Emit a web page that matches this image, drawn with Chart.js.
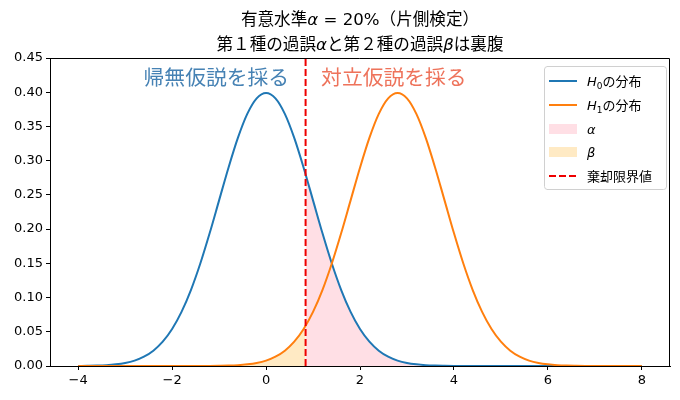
<!DOCTYPE html>
<html><head><meta charset="utf-8">
<script src="https://cdn.jsdelivr.net/npm/chart.js@4"></script>
<style>html,body{margin:0;padding:0;background:#fff}</style></head>
<body><canvas id="c" width="680" height="400"></canvas>
<script>
const xs = [-4.0,-3.8,-3.6,-3.4,-3.2,-3.0,-2.8,-2.6,-2.4,-2.2,-2.0,-1.8,-1.6,-1.4,-1.2,-1.0,-0.8,-0.6,-0.4,-0.2,
  0.0,0.2,0.4,0.6,0.8,1.0,1.2,1.4,1.6,1.8,2.0,2.2,2.4,2.6,2.8,3.0,3.2,3.4,3.6,3.8,
  4.0,4.2,4.4,4.6,4.8,5.0,5.2,5.4,5.6,5.8,6.0,6.2,6.4,6.6,6.8,7.0,7.2,7.4,7.6,7.8,8.0];
const h0 = [0.0001,0.0003,0.0006,0.0012,0.0024,0.0044,0.0079,0.0136,0.0224,0.0355,0.0540,0.0790,0.1109,0.1497,0.1942,0.2420,0.2897,0.3332,0.3683,0.3910,
  0.3989,0.3910,0.3683,0.3332,0.2897,0.2420,0.1942,0.1497,0.1109,0.0790,0.0540,0.0355,0.0224,0.0136,0.0079,0.0044,0.0024,0.0012,0.0006,0.0003,
  0.0001,0,0,0,0,0,0,0,0,0,0,0,0,0,0,0,0,0,0,0,0];
const h1 = [0,0,0,0,0,0,0,0,0,0,0,0,0,0,0.0001,0.0003,0.0006,0.0012,0.0024,0.0044,
  0.0079,0.0136,0.0224,0.0355,0.0540,0.0790,0.1109,0.1497,0.1942,0.2420,0.2897,0.3332,0.3683,0.3910,0.3989,0.3910,0.3683,0.3332,0.2897,0.2420,
  0.1942,0.1497,0.1109,0.0790,0.0540,0.0355,0.0224,0.0136,0.0079,0.0044,0.0024,0.0012,0.0006,0.0003,0.0001,0,0,0,0,0,0];
const critX = 0.8416, critH0 = 0.280, critH1 = 0.059;
const critLineY = [0, 0.45];
const xTicks = [-4,-2,0,2,4,6,8];
const xTickLabels = ['−4','−2','0','2','4','6','8'];
const yTicks = [0,0.05,0.10,0.15,0.20,0.25,0.30,0.35,0.40,0.45];
const yTickLabels = ['0.00','0.05','0.10','0.15','0.20','0.25','0.30','0.35','0.40','0.45'];
const noteLeft = '帰無仮説を採る', noteRight = '対立仮説を採る';

const FF = "'DejaVu Sans','Noto Sans CJK JP',sans-serif";
const C_H0 = '#1f77b4', C_H1 = '#ff7f0e', C_A = 'rgba(255,192,203,0.5)', C_B = 'rgba(255,165,0,0.23)', C_CR = '#ee0000';

function pts(ys){ return xs.map((x,i)=>({x:x, y:ys[i]})); }
const alphaPts = [{x:critX, y:critH0}].concat(pts(h0).filter(p=>p.x>critX));
const betaPts = pts(h1).filter(p=>p.x<critX).concat([{x:critX, y:critH1}]);
const critPts = critLineY.map(y=>({x:critX, y:y}));

function drawRich(ctx, segs, x, y, align){
  let w = 0;
  segs.forEach(s=>{ ctx.font = (s.it?'italic ':'') + s.size + 'px ' + FF; s.w = ctx.measureText(s.t).width; w += s.w; });
  let cx = align==='center' ? x - w/2 : (align==='right' ? x - w : x);
  ctx.textAlign = 'left'; ctx.textBaseline = 'alphabetic';
  segs.forEach(s=>{ ctx.font = (s.it?'italic ':'') + s.size + 'px ' + FF; ctx.fillText(s.t, cx, y + (s.dy||0)); cx += s.w; });
}

const deco = {
  id:'deco',
  afterDraw(chart){
    const ctx = chart.ctx, a = chart.chartArea, sx = chart.scales.x, sy = chart.scales.y;
    ctx.save();
    ctx.strokeStyle = '#000'; ctx.lineWidth = 1;
    ctx.beginPath(); ctx.moveTo(a.left, a.top+0.5); ctx.lineTo(a.right-0.5, a.top+0.5); ctx.lineTo(a.right-0.5, a.bottom); ctx.stroke();
    ctx.fillStyle = '#000';
    const ts = 16.6;
    drawRich(ctx, [{t:'有意水準',size:ts},{t:'α',it:true,size:ts},{t:' = 20%（片側検定）',size:ts}], (a.left+a.right)/2, 25, 'center');
    drawRich(ctx, [{t:'第１種の過誤',size:ts},{t:'α',it:true,size:ts},{t:'と第２種の過誤',size:ts},{t:'β',it:true,size:ts},{t:'は裏腹',size:ts}], (a.left+a.right)/2, 50, 'center');
    ctx.font = '20.8px ' + FF; ctx.textBaseline = 'middle';
    ctx.fillStyle = '#4682b4'; ctx.textAlign = 'right';
    ctx.fillText(noteLeft, sx.getPixelForValue(critX - 0.35), sy.getPixelForValue(0.418));
    ctx.fillStyle = '#ee735b'; ctx.textAlign = 'left';
    ctx.fillText(noteRight, sx.getPixelForValue(critX + 0.33), sy.getPixelForValue(0.418));
    const bx = 544, by = 66, bw = 123, bh = 124, r = 3;
    ctx.fillStyle = 'rgba(255,255,255,0.8)'; ctx.strokeStyle = '#d0d0d0'; ctx.lineWidth = 1;
    ctx.beginPath();
    ctx.moveTo(bx+r, by+0.5); ctx.lineTo(bx+bw-r, by+0.5); ctx.arcTo(bx+bw-0.5, by+0.5, bx+bw-0.5, by+r, r);
    ctx.lineTo(bx+bw-0.5, by+bh-r); ctx.arcTo(bx+bw-0.5, by+bh-0.5, bx+bw-r, by+bh-0.5, r);
    ctx.lineTo(bx+r, by+bh-0.5); ctx.arcTo(bx+0.5, by+bh-0.5, bx+0.5, by+bh-r, r);
    ctx.lineTo(bx+0.5, by+r); ctx.arcTo(bx+0.5, by+0.5, bx+r, by+0.5, r); ctx.closePath();
    ctx.fill(); ctx.stroke();
    const rows = [81,105,129,152,176], hx0 = 549, hx1 = 577, tx = 587;
    ctx.lineWidth = 2;
    ctx.strokeStyle = C_H0; ctx.beginPath(); ctx.moveTo(hx0, rows[0]); ctx.lineTo(hx1, rows[0]); ctx.stroke();
    ctx.strokeStyle = C_H1; ctx.beginPath(); ctx.moveTo(hx0, rows[1]); ctx.lineTo(hx1, rows[1]); ctx.stroke();
    ctx.fillStyle = C_A; ctx.fillRect(hx0, rows[2]-5, hx1-hx0, 10);
    ctx.fillStyle = C_B; ctx.fillRect(hx0, rows[3]-5, hx1-hx0, 10);
    ctx.strokeStyle = C_CR; ctx.setLineDash([7,3]); ctx.beginPath(); ctx.moveTo(hx0, rows[4]); ctx.lineTo(hx1, rows[4]); ctx.stroke(); ctx.setLineDash([]);
    ctx.fillStyle = '#000';
    drawRich(ctx, [{t:'H',it:true,size:13},{t:'0',size:9,dy:3},{t:'の分布',size:13}], tx, rows[0]+5, 'left');
    drawRich(ctx, [{t:'H',it:true,size:13},{t:'1',size:9,dy:3},{t:'の分布',size:13}], tx, rows[1]+5, 'left');
    drawRich(ctx, [{t:'α',it:true,size:13}], tx, rows[2]+5, 'left');
    drawRich(ctx, [{t:'β',it:true,size:13}], tx, rows[3]+5, 'left');
    drawRich(ctx, [{t:'棄却限界値',size:13}], tx, rows[4]+5, 'left');
    ctx.restore();
  }
};

new Chart(document.getElementById('c'), {
  type:'line',
  data:{ datasets:[
    {data:critPts, borderColor:C_CR, borderWidth:2, borderDash:[7,3], pointRadius:0, fill:false},
    {data:pts(h1), borderColor:C_H1, borderWidth:2, pointRadius:0, cubicInterpolationMode:'monotone', fill:false},
    {data:pts(h0), borderColor:C_H0, borderWidth:2, pointRadius:0, cubicInterpolationMode:'monotone', fill:false},
    {data:alphaPts, borderWidth:0, borderColor:'rgba(0,0,0,0)', backgroundColor:C_A, pointRadius:0, cubicInterpolationMode:'monotone', fill:'origin'},
    {data:betaPts, borderWidth:0, borderColor:'rgba(0,0,0,0)', backgroundColor:C_B, pointRadius:0, cubicInterpolationMode:'monotone', fill:'origin'}
  ]},
  options:{
    responsive:false, animation:false, devicePixelRatio:1,
    layout:{padding:{top:58,right:10,left:0,bottom:0}},
    plugins:{legend:{display:false}, title:{display:false}, tooltip:{enabled:false}},
    scales:{
      x:{type:'linear', min:-4.6, max:8.6,
        afterBuildTicks:s=>{ s.ticks = xTicks.map(v=>({value:v})); },
        afterFit:s=>{ s.height = 34; },
        ticks:{autoSkip:false, maxRotation:0, color:'#000', font:{family:FF,size:13}, padding:3,
          callback:v=>xTickLabels[xTicks.indexOf(v)]},
        grid:{display:true, drawOnChartArea:false, drawTicks:true, tickLength:4, color:'#000'},
        border:{display:true, color:'#000', width:1}},
      y:{type:'linear', min:0, max:0.45,
        afterBuildTicks:s=>{ s.ticks = yTicks.map(v=>({value:v})); },
        afterFit:s=>{ s.width = 50; },
        ticks:{autoSkip:false, color:'#000', font:{family:FF,size:13}, padding:3,
          callback:v=>yTickLabels[yTicks.findIndex(t=>Math.abs(t-v)<1e-9)]},
        grid:{display:true, drawOnChartArea:false, drawTicks:true, tickLength:4, color:'#000'},
        border:{display:true, color:'#000', width:1}}
    }
  },
  plugins:[deco]
});
</script></body></html>
